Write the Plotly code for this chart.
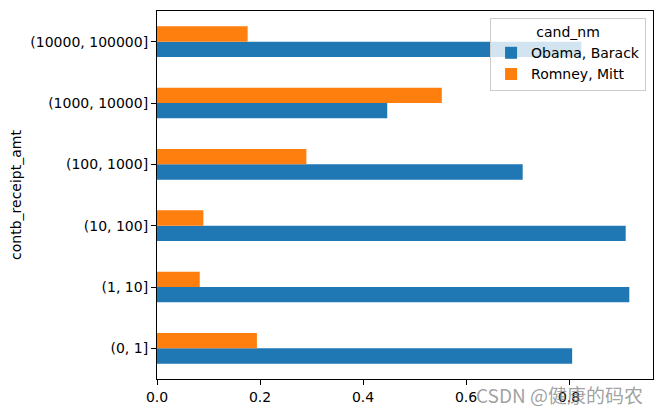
import plotly.graph_objects as go

categories = ["(0, 1]", "(1, 10]", "(10, 100]", "(100, 1000]", "(1000, 10000]", "(10000, 100000]"]
obama = [0.806, 0.917, 0.910, 0.710, 0.447, 0.824]
romney = [0.194, 0.083, 0.090, 0.290, 0.553, 0.176]
series_names = ["Obama, Barack", "Romney, Mitt"]
x_ticks = [0.0, 0.2, 0.4, 0.6, 0.8]

font = "DejaVu Sans"
fs = 14
fig = go.Figure()
fig.add_trace(go.Bar(y=categories, x=obama, orientation="h", name=series_names[0],
                     marker=dict(color="#1f77b4", line=dict(width=0))))
fig.add_trace(go.Bar(y=categories, x=romney, orientation="h", name=series_names[1],
                     marker=dict(color="#ff7f0e", line=dict(width=0))))

fig.update_layout(
    width=662, height=413,
    margin=dict(l=149, r=17, t=3, b=42),
    paper_bgcolor="white", plot_bgcolor="white",
    barmode="group", bargap=0.5, bargroupgap=0,
    font=dict(family=font, size=fs, color="black"),
    showlegend=True,
    legend=dict(x=0.986, y=0.981, xanchor="right", yanchor="top",
                bgcolor="rgba(255,255,255,0.8)", bordercolor="#cccccc", borderwidth=1,
                title=dict(text="cand_nm", side="top center", font=dict(size=fs)),
                font=dict(size=fs), traceorder="normal", itemwidth=30),
    xaxis=dict(range=[0, 0.963], tickvals=x_ticks, tickformat=".1f",
               showgrid=False, zeroline=False, showline=True, linecolor="black", linewidth=1.1,
               mirror=True, ticks="outside", ticklen=5, tickwidth=1.1, tickcolor="black"),
    yaxis=dict(type="category", categoryorder="array", categoryarray=categories,
               range=[-0.5, 5.5], showgrid=False, zeroline=False, showline=True,
               linecolor="black", linewidth=1.1, mirror=True, ticks="outside", ticklen=5,
               tickwidth=1.1, tickcolor="black",
               title=dict(text="contb_receipt_amt", standoff=8, font=dict(size=fs))),
)

fig.add_annotation(text="CSDN @健康的码农", xref="paper", yref="paper", x=0.984, y=-0.041,
                   xanchor="right", yanchor="middle", showarrow=False,
                   font=dict(family="Noto Sans CJK SC", size=19, color="rgba(120,120,120,0.7)"))

fig.write_html("out.html")
